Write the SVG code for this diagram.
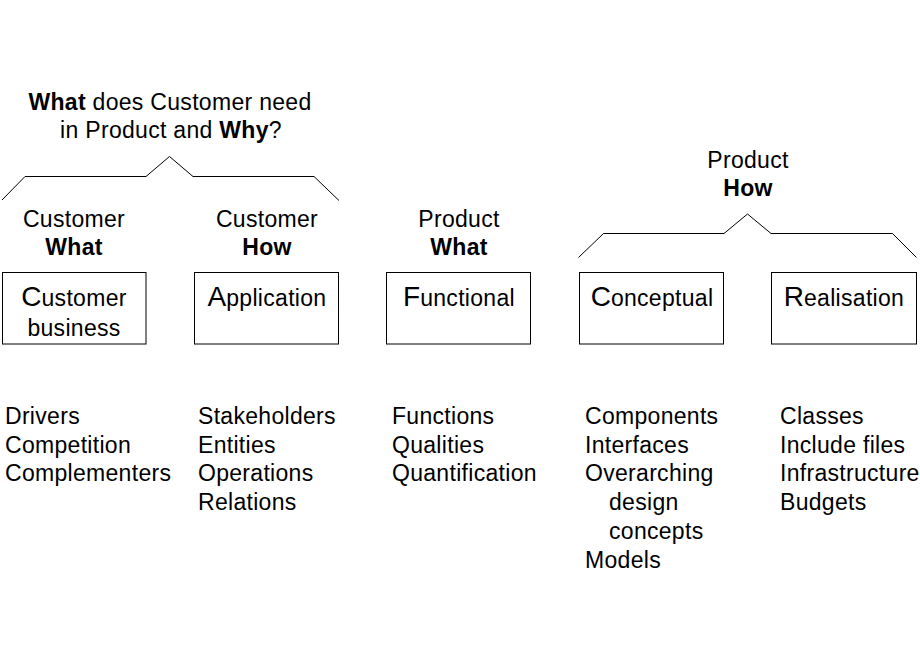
<svg xmlns="http://www.w3.org/2000/svg" width="920" height="660" viewBox="0 0 920 660">
<style>
text{font-family:"Liberation Sans",Arial,sans-serif;font-size:23px;letter-spacing:0.3px;fill:#000}
.c{text-anchor:middle}
.b{font-weight:bold}
.big{font-size:28px;letter-spacing:0px}
.box{fill:#fff;stroke:#000;stroke-width:1}
.brace{fill:none;stroke:#000;stroke-width:1}
</style>
<rect width="920" height="660" fill="#fff"/>
<g id="connectors">
<polyline class="brace" points="2,200 25,176.5 146,176.5 169.5,156.5 193,176.5 314,176.5 339,200.5"/>
<polyline class="brace" points="578.5,257.5 603.5,233.5 724,233.5 747.5,214 771,233.5 892.5,233.5 916.5,257.5"/>
</g>
<g id="heading-customer">
<text class="c" x="170" y="110"><tspan class="b">What</tspan> does Customer need</text>
<text class="c" x="171" y="138">in Product and <tspan class="b">Why</tspan>?</text>
</g>
<g id="heading-product-how">
<text class="c" x="748" y="168">Product</text>
<text class="c b" x="748" y="196">How</text>
</g>
<g id="node-customer-business">
<text class="c" x="74" y="227">Customer</text>
<text class="c b" x="74" y="255">What</text>
<rect class="box" x="2.5" y="272.5" width="143.5" height="71.5"/>
<text class="c" x="74" y="306"><tspan class="big">C</tspan>ustomer</text>
<text class="c" x="74" y="336">business</text>
<text x="5" y="424">Drivers</text>
<text x="5" y="452.7">Competition</text>
<text x="5" y="481.4">Complementers</text>
</g>
<g id="node-application">
<text class="c" x="267" y="227">Customer</text>
<text class="c b" x="267" y="255">How</text>
<rect class="box" x="194.5" y="272.5" width="144" height="71.5"/>
<text class="c" x="267" y="306"><tspan class="big">A</tspan>pplication</text>
<text x="198" y="424">Stakeholders</text>
<text x="198" y="452.7">Entities</text>
<text x="198" y="481.4">Operations</text>
<text x="198" y="510.1">Relations</text>
</g>
<g id="node-functional">
<text class="c" x="459" y="227">Product</text>
<text class="c b" x="459" y="255">What</text>
<rect class="box" x="386.5" y="272.5" width="144" height="71.5"/>
<text class="c" x="459" y="306"><tspan class="big">F</tspan>unctional</text>
<text x="392" y="424">Functions</text>
<text x="392" y="452.7">Qualities</text>
<text x="392" y="481.4">Quantification</text>
</g>
<g id="node-conceptual">
<rect class="box" x="579.5" y="272.5" width="144" height="71.5"/>
<text class="c" x="652" y="306"><tspan class="big">C</tspan>onceptual</text>
<text x="585" y="424">Components</text>
<text x="585" y="452.7">Interfaces</text>
<text x="585" y="481.4">Overarching</text>
<text x="609" y="510.1">design</text>
<text x="609" y="538.8">concepts</text>
<text x="585" y="567.5">Models</text>
</g>
<g id="node-realisation">
<rect class="box" x="771.5" y="272.5" width="145" height="71.5"/>
<text class="c" x="844" y="306"><tspan class="big">R</tspan>ealisation</text>
<text x="780" y="424">Classes</text>
<text x="780" y="452.7">Include files</text>
<text x="780" y="481.4">Infrastructure</text>
<text x="780" y="510.1">Budgets</text>
</g>
</svg>
